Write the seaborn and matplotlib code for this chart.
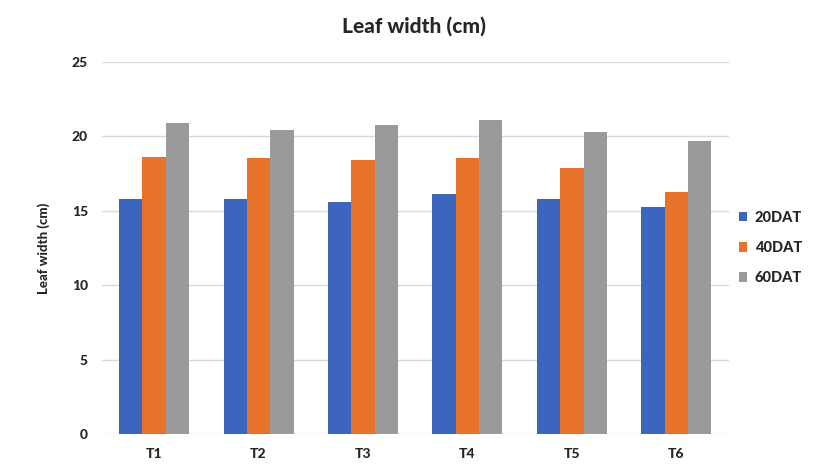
import matplotlib.pyplot as plt
import pandas as pd
import seaborn as sns

treatments = ['T1', 'T2', 'T3', 'T4', 'T5', 'T6']
dat20 = [15.8, 15.8, 15.6, 16.1, 15.8, 15.25]
dat40 = [18.65, 18.55, 18.45, 18.55, 17.9, 16.3]
dat60 = [20.9, 20.45, 20.75, 21.1, 20.3, 19.7]
series = ['20DAT', '40DAT', '60DAT']
colors = ['#3D65BD', '#E9722B', '#9A9A9A']

df = pd.DataFrame({'Treatment': treatments * 3,
                   'Stage': [s for s in series for _ in treatments],
                   'Leaf width': dat20 + dat40 + dat60})

sns.set_style('white')
plt.rcParams['font.family'] = ['Lato', 'DejaVu Sans']

fig = plt.figure(figsize=(8.28, 4.72), dpi=100)
ax = fig.add_axes([0.123, 0.0805, 0.757, 0.788])

sns.barplot(data=df, x='Treatment', y='Leaf width', hue='Stage',
            palette=colors, width=0.67, saturation=1, linewidth=0, ax=ax)

ax.set_ylim(0, 25)
ax.set_yticks([0, 5, 10, 15, 20, 25])
ax.grid(axis='y', color='#D9D9D9', linewidth=1)
ax.set_axisbelow(True)
for s in ax.spines.values():
    s.set_visible(False)
ax.tick_params(length=0, labelsize=10, pad=10)
for lab in ax.get_xticklabels() + ax.get_yticklabels():
    lab.set_fontweight('black')

ax.set_xlabel('')
ax.set_ylabel('Leaf width (cm)', fontsize=9.5, fontweight='black', labelpad=16)
fig.suptitle('Leaf width (cm)', x=0.5, y=0.965, fontsize=15, fontweight='black')

ax.legend(loc='center left', bbox_to_anchor=(0.995, 0.5), frameon=False,
          handlelength=0.6, handleheight=0.6, handletextpad=0.5,
          labelspacing=1.1, prop={'weight': 'black', 'size': 10.5})

fig.savefig('out.png', dpi=100)
